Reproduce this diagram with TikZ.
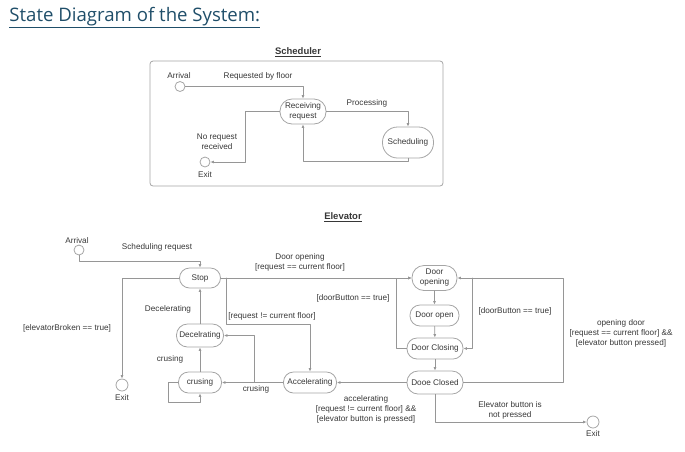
\documentclass[tikz,border=0pt]{standalone}
\usepackage{fontspec}
\setmainfont{Liberation Sans}
\newfontfamily\titlefont{Open Sans}
\usetikzlibrary{arrows.meta}
\definecolor{titleblue}{RGB}{31,78,105}
\definecolor{textgray}{RGB}{55,55,55}
\definecolor{linegray}{RGB}{150,150,150}
\definecolor{bordergray}{RGB}{165,165,165}
\tikzstyle{every node}=[font=\fontsize{8.2}{10}\selectfont,text=textgray]
\tikzstyle{every path}=[line width=0.8pt,line cap=round,line join=round]
\tikzstyle{state}=[draw=bordergray,rounded corners=10pt,inner sep=0pt,align=center]
\tikzstyle{conn}=[draw=linegray,-{Latex[length=3.5pt,width=3pt]}]
\tikzstyle{lbl}=[align=center,inner sep=0pt]
\tikzstyle{startdot}=[circle,draw=bordergray,minimum size=10pt,inner sep=0pt]
\tikzstyle{enddot}=[circle,draw=bordergray,minimum size=12pt,inner sep=0pt]
\tikzstyle{heading}=[font=\fontsize{9.5}{11}\selectfont\bfseries,text=textgray]

\begin{document}
\begin{tikzpicture}[x=1pt,y=-1pt]
    \useasboundingbox (0,0) rectangle (685,451);

    % Page title
    \node[anchor=base west,inner sep=0pt,text=titleblue,font=\titlefont\fontsize{18.6}{21}\selectfont]
    (title) at (9,21.5) {\underline{State Diagram of the System:}};

    % Scheduler frame and states
    \node[draw=bordergray,rounded corners=3pt,minimum width=293,minimum height=125] (schedframe) at (296.5,123.5) {};
    \node[heading] (schedtitle) at (298,52) {\underline{Scheduler}};
    \node[startdot] (sArrival) at (180,86.5) {};
    \node[lbl] (sArrivalLbl) at (179,76) {Arrival};
    \node[state,minimum width=46,minimum height=25,rounded corners=12pt] (receiving) at (303,111.5) {Receiving\\request};
    \node[state,minimum width=51,minimum height=31,rounded corners=15pt] (scheduling) at (408,142.5) {Scheduling};
    \node[startdot] (sExit) at (205,162) {};
    \node[lbl] (sExitLbl) at (205,175) {Exit};

    % --Scheduler transitions
    \draw[conn] (sArrival.east) -| (receiving.north);
    \draw[conn] (receiving.east) -| (scheduling.north);
    \draw[conn] (scheduling.south) -- ++(0,3) -| (receiving.south);
    \draw[conn] (receiving.west) -- ++(-34,0) |- (sExit.east);
    \node[lbl] (reqLbl) at (258,76) {Requested by floor};
    \node[lbl] (procLbl) at (367,103) {Processing};
    \node[lbl] (noreqLbl) at (217,141.5) {No request\\received};

    % Elevator states
    \node[heading] (elevtitle) at (343,217) {\underline{Elevator}};
    \node[startdot] (eArrival) at (79,250) {};
    \node[lbl] (eArrivalLbl) at (77,240.5) {Arrival};
    \node[state,minimum width=41,minimum height=20] (stop) at (200,278) {Stop};
    \node[state,minimum width=47,minimum height=23,rounded corners=11pt] (decel) at (200,335.5) {Decelrating};
    \node[state,minimum width=43,minimum height=21] (crusing) at (200,382.5) {crusing};
    \node[state,minimum width=53,minimum height=21] (accel) at (310,382.5) {Accelerating};
    \node[state,minimum width=45,minimum height=25,rounded corners=12pt] (dopening) at (434.5,278) {Door\\opening};
    \node[state,minimum width=49,minimum height=21] (dopen) at (434.5,315.5) {Door open};
    \node[state,minimum width=56,minimum height=21] (dclosing) at (435,348.5) {Door Closing};
    \node[state,minimum width=56,minimum height=23,rounded corners=11pt] (dclosed) at (435,382.5) {Dooe Closed};
    \node[enddot] (eExit) at (122,385) {};
    \node[lbl] (eExitLbl) at (122,398) {Exit};
    \node[enddot] (eExit2) at (593,422) {};
    \node[lbl] (eExit2Lbl) at (593,433.5) {Exit};

    % --Elevator transitions, left side
    \draw[conn] (eArrival.south) -- ++(0,6) -| (stop.north);
    \draw[conn] (stop.west) -| (eExit.north);
    \draw[conn] (decel) -- (stop);
    \draw[conn] (crusing) -- (decel);
    \draw[conn] (crusing.west) -- ++(-10,0) -- ++(0,19.5) -| (crusing.south);
    \draw[conn] (accel.west) -- (crusing.east);
    \coordinate (cbranch) at (254,382.5);
    \draw[conn] (cbranch) |- (decel.east);
    \draw[conn] (stop.east) -- (dopening.west);
    \draw[conn] ([xshift=5pt]stop.east) -- ++(0,46) -| (accel.north);

    % --Elevator transitions, door states
    \draw[conn] (dopening) -- (dopen);
    \draw[conn] (dopen) -- (dclosing);
    \draw[conn] (dclosing) -- (dclosed);
    \draw[conn] (dclosing.west) -- ++(-10,0) |- (dopening.west);
    \draw[conn] ([xshift=15pt]dopening.east) |- (dclosing.east);
    \draw[conn] (dclosed.east) -- ++(100,0) |- (dopening.east);
    \draw[conn] (dclosed.west) -- (accel.east);
    \draw[conn] (dclosed.south) |- (eExit2.west);

    % --Elevator labels
    \node[lbl] (schedreqLbl) at (157,247) {Scheduling request};
    \node[lbl] (dooropLbl) at (300,262) {Door opening\\{[request == current floor]}};
    \node[lbl] (brokenLbl) at (67,328) {[elevatorBroken == true]};
    \node[lbl] (neqLbl) at (272,316.5) {[request != current floor]};
    \node[lbl] (decLbl) at (168,309) {Decelerating};
    \node[lbl] (cruLbl) at (170,359) {crusing};
    \node[lbl] (cru2Lbl) at (256,389) {crusing};
    \node[lbl] (btnLbl) at (353,298) {[doorButton == true]};
    \node[lbl] (btn2Lbl) at (515,311) {[doorButton == true]};
    \node[lbl] (opendoorLbl) at (621,333) {opening door\\{[request == current floor] \&\&}\\{[elevator button pressed]}};
    \node[lbl] (accLbl) at (366,409) {accelerating\\{[request != current floor] \&\&}\\{[elevator button is pressed]}};
    \node[lbl] (notpressLbl) at (510,410) {Elevator button is\\not pressed};
\end{tikzpicture}
\end{document}
